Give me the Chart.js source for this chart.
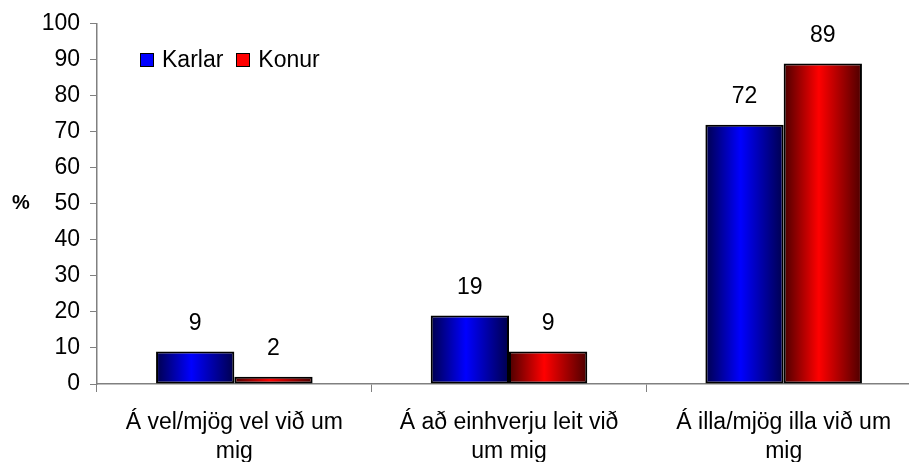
<!DOCTYPE html>
<html lang="is">
<head>
<meta charset="UTF-8">
<script src="https://cdn.jsdelivr.net/npm/chart.js"></script>
<title>Karlar og konur</title>
<style>
  body { margin: 0; background: #fff; overflow: hidden; }
  .wrap { position: relative; width: 909px; height: 462px; overflow: hidden; }
  .legend { position: absolute; left: 140px; top: 46px; font: 23px "Liberation Sans", Arial, sans-serif; display: flex; align-items: center; }
  .legend span.box { display: inline-block; width: 12px; height: 12px; border: 1.5px solid #000; margin-right: 8px; }
  .legend span.txt { margin-right: 13px; }
</style>
</head>
<body>
<div class="wrap">
  <!-- x-ásinn nær aðeins út fyrir hægri brún -->
  <canvas id="graf" width="921" height="462"></canvas>
  <div class="legend">
    <span class="box" style="background:#0000ff"></span><span class="txt">Karlar</span>
    <span class="box" style="background:#ff0000"></span><span class="txt">Konur</span>
  </div>
</div>
<script>
  const flokkar = [
    ['Á vel/mjög vel við um', 'mig'],
    ['Á að einhverju leit við', 'um mig'],
    ['Á illa/mjög illa við um', 'mig']
  ];
  const karlar = [9, 19, 72];
  const konur = [2, 9, 89];
  const yTikk = [0, 10, 20, 30, 40, 50, 60, 70, 80, 90, 100];

  const letur = '"Liberation Sans", Arial, sans-serif';

  // litaskipti frá dökkum jöðrum í bjarta miðju á hverri súlu
  const litir = [['#00004c', '#0000ff'], ['#4c0000', '#ff0000']];

  const halli = {
    id: 'halli',
    beforeDatasetDraw(chart, args) {
      const ctx = chart.ctx;
      const [dokkur, bjartur] = litir[args.index];
      args.meta.data.forEach(function (bar) {
        const l = bar.x - bar.width / 2, r = bar.x + bar.width / 2;
        const g = ctx.createLinearGradient(l, 0, r, 0);
        g.addColorStop(0, dokkur);
        g.addColorStop(0.45, bjartur);
        g.addColorStop(1, dokkur);
        bar.options.backgroundColor = g;
      });
    }
  };

  // gildin fyrir ofan súlurnar og % við y-ás
  const gildi = {
    id: 'gildi',
    afterDatasetsDraw(chart) {
      const ctx = chart.ctx;
      ctx.save();
      ctx.fillStyle = '#000';
      ctx.font = '23px ' + letur;
      ctx.textAlign = 'center';
      ctx.textBaseline = 'middle';
      chart.data.datasets.forEach(function (ds, i) {
        chart.getDatasetMeta(i).data.forEach(function (bar, j) {
          ctx.fillText(ds.data[j], bar.x, bar.y - 28);
        });
      });
      ctx.font = 'bold 20px ' + letur;
      ctx.fillText('%', 21, 203);
      ctx.restore();
    }
  };

  // fall svo hver súla fái sína eigin options (ekki samnýttar)
  const grunnlitur = (c) => () => c;

  new Chart(document.getElementById('graf'), {
    type: 'bar',
    data: {
      labels: flokkar,
      datasets: [
        { label: 'Karlar', data: karlar, backgroundColor: grunnlitur('#0000ff'), borderColor: '#000', borderWidth: 2, borderSkipped: false },
        { label: 'Konur', data: konur, backgroundColor: grunnlitur('#ff0000'), borderColor: '#000', borderWidth: 2, borderSkipped: false }
      ]
    },
    options: {
      responsive: false,
      animation: false,
      layout: { padding: { top: 22, right: 0, bottom: 0, left: 0 } },
      datasets: {
        bar: { categoryPercentage: 0.57, barPercentage: 1 }
      },
      plugins: {
        legend: { display: false },
        tooltip: { enabled: false }
      },
      scales: {
        x: {
          grid: { drawOnChartArea: false, color: '#808080', tickLength: 8, offset: true },
          border: { color: '#808080', width: 1.5 },
          ticks: { color: '#000', font: { family: letur, size: 23, lineHeight: 1.26 }, maxRotation: 0, padding: 16 },
          afterFit(scale) { scale.height = 78; }
        },
        y: {
          min: 0,
          max: 100,
          afterBuildTicks(scale) { scale.ticks = yTikk.map(v => ({ value: v })); },
          grid: { drawOnChartArea: false, color: '#808080', tickLength: 7 },
          border: { color: '#808080', width: 1.5 },
          ticks: { color: '#000', font: { family: letur, size: 23 }, padding: 10 },
          afterFit(scale) { scale.width = 97; }
        }
      }
    },
    plugins: [halli, gildi]
  });
</script>
</body>
</html>
